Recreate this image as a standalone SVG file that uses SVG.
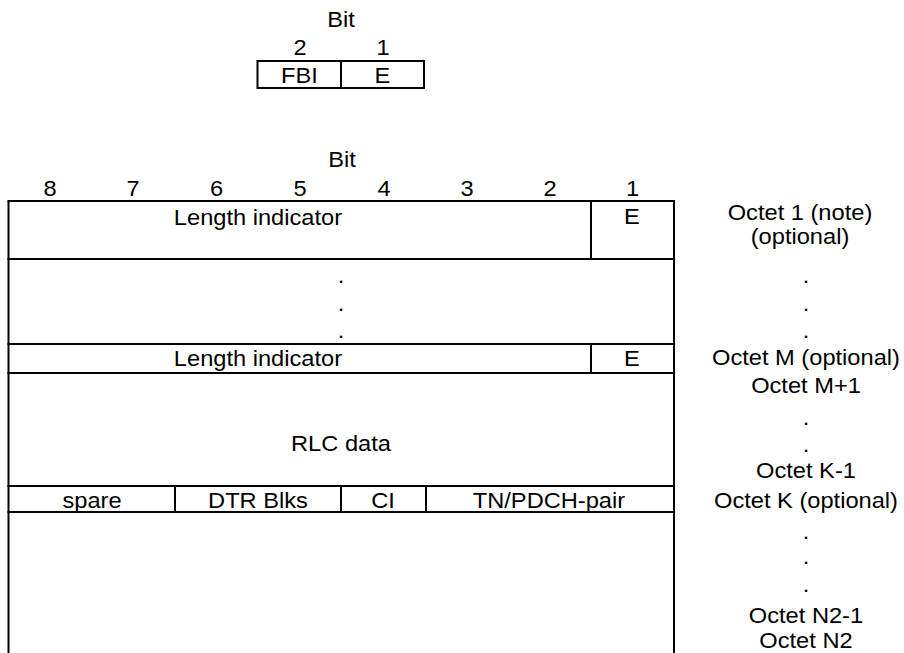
<svg xmlns="http://www.w3.org/2000/svg" width="904" height="653" viewBox="0 0 904 653">
<style>
  text { font-family: "Liberation Sans", Arial, sans-serif; font-size: 21.5px; fill: #000; text-anchor: middle; transform-box: fill-box; transform-origin: center; transform: scaleX(1.1); }
  .ln { stroke: #000; stroke-width: 2; fill: none; }
</style>
<rect width="904" height="653" fill="#fff"/>
<g id="small-header">
  <text x="341" y="27">Bit</text>
  <text x="300" y="55">2</text>
  <text x="383" y="55">1</text>
  <rect class="ln" x="257.5" y="61" width="166.5" height="27"/>
  <line class="ln" x1="341" y1="61" x2="341" y2="88"/>
  <text x="299.5" y="83">FBI</text>
  <text x="382.5" y="83">E</text>
</g>
<g id="bit-numbers">
  <text x="342" y="167">Bit</text>
  <text x="50" y="196">8</text>
  <text x="133" y="196">7</text>
  <text x="216.5" y="196">6</text>
  <text x="300" y="196">5</text>
  <text x="384" y="196">4</text>
  <text x="467" y="196">3</text>
  <text x="550" y="196">2</text>
  <text x="632.5" y="196">1</text>
</g>
<g id="table-lines">
  <line class="ln" x1="8.5" y1="201" x2="8.5" y2="653"/>
  <line class="ln" x1="674" y1="201" x2="674" y2="653"/>
  <line class="ln" x1="7.5" y1="201" x2="675" y2="201"/>
  <line class="ln" x1="7.5" y1="259" x2="675" y2="259"/>
  <line class="ln" x1="7.5" y1="344" x2="675" y2="344"/>
  <line class="ln" x1="7.5" y1="373" x2="675" y2="373"/>
  <line class="ln" x1="7.5" y1="486" x2="675" y2="486"/>
  <line class="ln" x1="7.5" y1="512" x2="675" y2="512"/>
  <line class="ln" x1="591" y1="201" x2="591" y2="259"/>
  <line class="ln" x1="591" y1="344" x2="591" y2="373"/>
  <line class="ln" x1="175" y1="486" x2="175" y2="512"/>
  <line class="ln" x1="341" y1="486" x2="341" y2="512"/>
  <line class="ln" x1="426" y1="486" x2="426" y2="512"/>
</g>
<g id="octet-1">
  <text x="258" y="225">Length indicator</text>
  <text x="632" y="224">E</text>
  <text x="800" y="220">Octet 1 (note)</text>
  <text x="800" y="244">(optional)</text>
</g>
<g id="dots-1">
  <text x="341" y="283">.</text>
  <text x="341" y="311">.</text>
  <text x="341" y="338">.</text>
  <text x="806" y="283">.</text>
  <text x="806" y="311">.</text>
  <text x="806" y="338">.</text>
</g>
<g id="octet-m">
  <text x="258" y="366">Length indicator</text>
  <text x="632" y="366">E</text>
  <text x="806" y="365">Octet M (optional)</text>
</g>
<g id="rlc-data">
  <text x="341" y="451">RLC data</text>
  <text x="806" y="393">Octet M+1</text>
  <text x="806" y="425">.</text>
  <text x="806" y="452">.</text>
  <text x="806" y="478">Octet K-1</text>
</g>
<g id="octet-k">
  <text x="92" y="508">spare</text>
  <text x="258" y="508">DTR Blks</text>
  <text x="383" y="508">CI</text>
  <text x="549" y="508">TN/PDCH-pair</text>
  <text x="806" y="508">Octet K (optional)</text>
</g>
<g id="octet-n2">
  <text x="806" y="539">.</text>
  <text x="806" y="564">.</text>
  <text x="806" y="592">.</text>
  <text x="806" y="623">Octet N2-1</text>
  <text x="806" y="648">Octet N2</text>
</g>
</svg>
